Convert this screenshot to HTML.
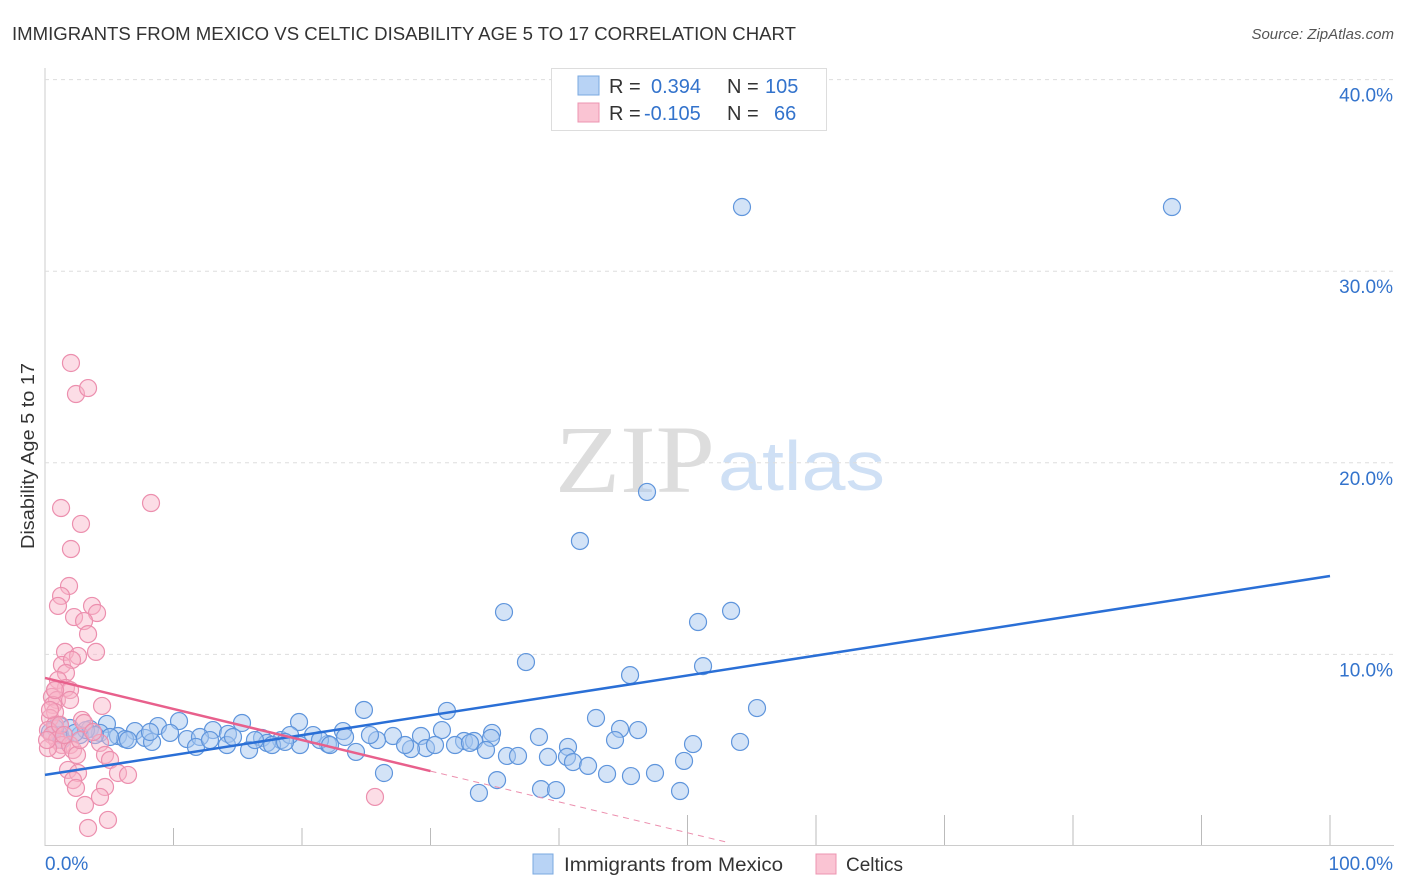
<!DOCTYPE html>
<html><head><meta charset="utf-8"><style>
body{margin:0;background:#fff;font-family:"Liberation Sans",sans-serif}
#wrap{position:relative;width:1406px;height:892px;overflow:hidden}
</style></head><body>
<div id="wrap">
<svg id="svg" width="1406" height="892">
<text x="12" y="40" font-size="18" fill="#333" textLength="784" lengthAdjust="spacingAndGlyphs">IMMIGRANTS FROM MEXICO VS CELTIC DISABILITY AGE 5 TO 17 CORRELATION CHART</text>
<text x="1394" y="39" font-size="15" fill="#555" font-style="italic" text-anchor="end">Source: ZipAtlas.com</text>
<text x="34" y="456" font-size="18" fill="#333" text-anchor="middle" textLength="186" lengthAdjust="spacingAndGlyphs" transform="rotate(-90 34 456)">Disability Age 5 to 17</text>
<text x="555" y="492" font-size="96" fill="#ddd" font-family="Liberation Serif" textLength="160" lengthAdjust="spacingAndGlyphs">ZIP</text>
<text x="718" y="490" font-size="70" fill="#cfe0f5" textLength="167" lengthAdjust="spacingAndGlyphs">atlas</text>
<g id="grid"></g><g id="pts"></g><g id="lines"></g>
<g>
<rect x="551.5" y="68.5" width="275" height="62" fill="#fff" stroke="#ddd"/>
<rect x="578" y="76" width="21" height="19" fill="#b8d3f5" stroke="#7aa8e0"/>
<rect x="578" y="103" width="21" height="19" fill="#fac4d3" stroke="#ec94b0"/>
<text x="609" y="93" font-size="20" fill="#333">R = </text><text x="651" y="93" font-size="20" fill="#3373cc">0.394</text>
<text x="727" y="93" font-size="20" fill="#333">N = </text><text x="765" y="93" font-size="20" fill="#3373cc">105</text>
<text x="609" y="120" font-size="20" fill="#333">R = </text><text x="644" y="120" font-size="20" fill="#3373cc">-0.105</text>
<text x="727" y="120" font-size="20" fill="#333">N = </text><text x="774" y="120" font-size="20" fill="#3373cc">66</text>
</g>
<g>
<rect x="533" y="854" width="20" height="20" fill="#b8d3f5" stroke="#7aa8e0"/>
<text x="564" y="871" font-size="19" fill="#333" textLength="219" lengthAdjust="spacingAndGlyphs">Immigrants from Mexico</text>
<rect x="816" y="854" width="20" height="20" fill="#fac4d3" stroke="#ec94b0"/>
<text x="846" y="871" font-size="19" fill="#333">Celtics</text>
</g>
</svg></div>
<script>
const yTicks=[10,20,30,40];
const yTickLabels=["10.0%","20.0%","30.0%","40.0%"];
const xTickLabels=["0.0%","100.0%"];
const bluePx=[[742,207],[1172,207],[647,492],[580,541],[504,612],[731,611],[698,622],[526,662],[703,666],[630,675],[757,708],[364,710],[447,711],[596,718],[179,721],[299,722],[158,726],[242,723],[107,724],[60,726],[70,728],[90,729],[135,731],[213,730],[228,734],[262,738],[170,733],[118,736],[145,738],[187,739],[200,737],[313,735],[343,731],[393,736],[421,736],[442,730],[492,733],[539,737],[568,747],[620,729],[638,730],[615,740],[693,744],[740,742],[491,738],[464,741],[474,741],[426,748],[411,749],[377,740],[356,752],[328,744],[281,740],[267,743],[272,745],[249,750],[227,745],[196,747],[152,742],[125,739],[100,733],[80,735],[60,735],[55,728],[50,732],[486,750],[507,756],[518,756],[548,757],[567,757],[573,762],[588,766],[607,774],[631,776],[655,773],[684,761],[384,773],[497,780],[479,793],[541,789],[556,790],[680,791],[86,730],[110,737],[150,732],[233,737],[300,745],[320,740],[290,735],[330,745],[405,745],[435,745],[455,745],[470,743],[62,740],[75,733],[95,735],[128,740],[210,740],[255,740],[285,742],[345,737],[370,735]];
const pinkPx=[[71,363],[76,394],[88,388],[61,508],[151,503],[81,524],[71,549],[69,586],[61,596],[58,606],[92,606],[97,613],[74,617],[84,621],[88,634],[96,652],[65,652],[78,656],[62,665],[72,660],[66,673],[58,680],[66,688],[55,690],[70,690],[52,697],[57,700],[53,705],[55,712],[50,718],[55,725],[48,730],[52,735],[57,740],[62,745],[58,750],[70,745],[73,750],[77,755],[82,720],[102,706],[84,723],[100,743],[105,755],[110,760],[68,770],[78,773],[73,780],[76,788],[105,787],[118,773],[128,775],[100,797],[85,805],[88,828],[108,820],[375,797],[48,748],[50,710],[60,725],[64,735],[47,740],[80,740],[93,732],[55,690],[70,700]];
const blueX=bluePx.map(p=>+((p[0]-45)/12.85).toFixed(2));
const blueY=bluePx.map(p=>+((846-p[1])/19.16).toFixed(2));
const pinkX=pinkPx.map(p=>+((p[0]-45)/12.85).toFixed(2));
const pinkY=pinkPx.map(p=>+((846-p[1])/19.16).toFixed(2));
const blueTrend=[[0,3.71],[100,14.09]];
const pinkTrend=[[0,8.77],[30,3.91]];
const pinkDash=[[30,3.91],[53.3,0.16]];
const sx=v=>45+v*12.85, sy=v=>846-v*19.16;
const NS="http://www.w3.org/2000/svg";
function mk(t,a,p){const e=document.createElementNS(NS,t);for(const k in a)e.setAttribute(k,a[k]);p.appendChild(e);return e;}
const grid=document.getElementById('grid');
const ax=mk('line',{x1:45,y1:68,x2:45,y2:846,stroke:'#ccc'},grid);


const bx=mk('line',{x1:45,y1:845.5,x2:1394,y2:845.5,stroke:'#ccc'},grid);


yTicks.forEach((t,i)=>{
 const g=mk('line',{x1:45,y1:sy(t),x2:1394,y2:sy(t),stroke:'#ddd','stroke-dasharray':'4,4'},grid);
 
 
 const l=mk('text',{x:1393,y:sy(t)+22,'font-size':19,fill:'#3373cc','text-anchor':'end'},grid);
 l.textContent=yTickLabels[i];
 
 
});
for(let i=1;i<=10;i++){
 const tall=(i>=5);
 const t=mk('line',{x1:sx(i*10),y1:tall?815:828,x2:sx(i*10),y2:845,stroke:'#bbb'},grid);
 
 
}
[[0,'start',45],[100,'end',1393]].forEach((d,i)=>{
 const l=mk('text',{x:d[2],y:870,'font-size':19,fill:'#3373cc','text-anchor':d[1]},grid);
 l.textContent=xTickLabels[i];
 
 
});
const pts=document.getElementById('pts');
blueX.forEach((x,i)=>{
 const c=mk('circle',{cx:sx(x),cy:sy(blueY[i]),r:8.5,fill:'rgba(168,200,240,0.5)',stroke:'#5f95dc','stroke-width':1.2},pts);
 
 
});
pinkX.forEach((x,i)=>{
 const c=mk('circle',{cx:sx(x),cy:sy(pinkY[i]),r:8.5,fill:'rgba(248,180,200,0.45)',stroke:'#ec8fae','stroke-width':1.2},pts);
 
 
});
const lines=document.getElementById('lines');
const b=mk('line',{x1:sx(blueTrend[0][0]),y1:sy(blueTrend[0][1]),x2:sx(blueTrend[1][0]),y2:sy(blueTrend[1][1]),stroke:'#2a6fd6','stroke-width':2.5},lines);


const p=mk('line',{x1:sx(pinkTrend[0][0]),y1:sy(pinkTrend[0][1]),x2:sx(pinkTrend[1][0]),y2:sy(pinkTrend[1][1]),stroke:'#e8608c','stroke-width':2.5},lines);


const pd=mk('line',{x1:sx(pinkDash[0][0]),y1:sy(pinkDash[0][1]),x2:sx(pinkDash[1][0]),y2:sy(pinkDash[1][1]),stroke:'#ec8fae','stroke-width':1,'stroke-dasharray':'6,5'},lines);


</script>
</body></html>
